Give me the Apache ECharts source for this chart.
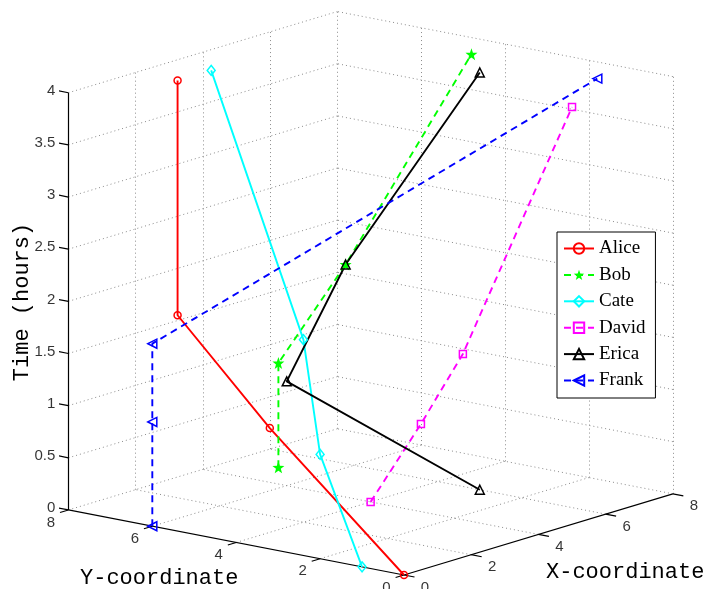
<!DOCTYPE html>
<html>
<head>
<meta charset="utf-8">
<script src="https://cdn.jsdelivr.net/npm/echarts@6/dist/echarts.min.js"></script>
<style>
  html, body { margin: 0; padding: 0; background: #fff; }
  #chart { width: 704px; height: 589px; }
</style>
</head>
<body>
<div id="chart"></div>
<script>
var people = ['Alice', 'Bob', 'Cate', 'David', 'Erica', 'Frank'];
var timeHours = [0, 1, 1.75, 4];

var aliceX = [0, 1, 2, 2], aliceY = [0, 4, 7, 7];
var bobX = [5, 5, 7, 7], bobY = [7, 7, 7, 4];
var cateX = [0, 0, 2, 3], cateY = [1, 2, 4, 7];
var davidX = [4, 3, 3, 5], davidY = [4, 2, 1, 0];
var ericaX = [6, 4, 7, 6], ericaY = [3, 6, 7, 3];
var frankX = [0, 0, 0, 7], frankY = [6, 6, 6, 1];

var xTicks = [0, 2, 4, 6, 8];
var yTicks = [0, 2, 4, 6, 8];
var tTicks = [0, 0.5, 1, 1.5, 2, 2.5, 3, 3.5, 4];
var xTickLabels = ['0', '2', '4', '6', '8'];
var yTickLabels = ['0', '2', '4', '6', '8'];
var tTickLabels = ['0', '0.5', '1', '1.5', '2', '2.5', '3', '3.5', '4'];

// view (azimuth / elevation, degrees) of the 3d box
var AZ = -51.3, EL = 14;
var XR = [0, 8], YR = [0, 8], TR = [0, 4];
var a = AZ * Math.PI / 180, e = EL * Math.PI / 180;

function proj(x, y, z) {
  var xn = (x - XR[0]) / (XR[1] - XR[0]);
  var yn = (y - YR[0]) / (YR[1] - YR[0]);
  var zn = (z - TR[0]) / (TR[1] - TR[0]);
  var u = Math.cos(a) * xn + Math.sin(a) * yn;
  var v = -Math.sin(e) * Math.sin(a) * xn + Math.sin(e) * Math.cos(a) * yn + Math.cos(e) * zn;
  return [u, v];
}

// screen placement of the projected box
var S = 430, OX = 404, OY = 575;
var U = [-0.8, 0.65], V = [-0.03, 1.33];

var chart = echarts.init(document.getElementById('chart'));

function seg(p, q) { return { coords: [proj(p[0], p[1], p[2]), proj(q[0], q[1], q[2])] }; }

// dotted grid on floor and the two back walls
var gridSegs = [];
xTicks.forEach(function (x) {
  if (x > XR[0]) gridSegs.push(seg([x, YR[0], 0], [x, YR[1], 0]));
  if (x > XR[0]) gridSegs.push(seg([x, YR[1], TR[0]], [x, YR[1], TR[1]]));
});
yTicks.forEach(function (y) {
  if (y > YR[0]) gridSegs.push(seg([XR[0], y, 0], [XR[1], y, 0]));
  if (y < YR[1]) gridSegs.push(seg([XR[1], y, TR[0]], [XR[1], y, TR[1]]));
});
tTicks.forEach(function (t) {
  if (t > TR[0]) {
    gridSegs.push(seg([XR[0], YR[1], t], [XR[1], YR[1], t]));
    gridSegs.push(seg([XR[1], YR[0], t], [XR[1], YR[1], t]));
  }
});

// solid axes and ticks
var axisSegs = [
  seg([XR[0], YR[0], 0], [XR[1], YR[0], 0]),
  seg([XR[0], YR[0], 0], [XR[0], YR[1], 0]),
  seg([XR[0], YR[1], TR[0]], [XR[0], YR[1], TR[1]])
];
xTicks.forEach(function (x) { axisSegs.push(seg([x, 0, 0], [x, -0.25, 0])); });
yTicks.forEach(function (y) { axisSegs.push(seg([0, y, 0], [-0.25, y, 0])); });
tTicks.forEach(function (t) { axisSegs.push(seg([0, 8, t], [0, 8.24, t])); });

var xLab = xTicks.map(function (x, i) { var p = proj(x, -0.5, -0.08); return [p[0], p[1], xTickLabels[i]]; });
var yLab = yTicks.map(function (y, i) { var p = proj(-0.52, y, -0.07); return [p[0], p[1], yTickLabels[i]]; });
var tLab = tTicks.map(function (t, i) { var p = proj(0, 8.24, t); return [p[0], p[1], tTickLabels[i]]; });

function pts(xs, ys) {
  return xs.map(function (x, i) { return proj(x, ys[i], timeHours[i]); });
}

var starPath = 'path://M0,-10L2.35,-3.24L9.51,-3.09L3.8,1.24L5.88,8.09L0,4L-5.88,8.09L-3.8,1.24L-9.51,-3.09L-2.35,-3.24Z';

function person(name, xs, ys, color, dash, symbol, size, filled, rot) {
  return {
    name: name,
    type: 'line',
    data: pts(xs, ys),
    symbol: symbol,
    symbolSize: size,
    symbolRotate: rot || 0,
    showAllSymbol: true,
    z: 5,
    clip: false,
    lineStyle: { color: color, width: 1.9, type: dash ? [7, 5] : 'solid' },
    itemStyle: filled ? { color: color } : { color: 'rgba(255,255,255,0)', borderColor: color, borderWidth: 1.5 }
  };
}

function labels(data, pos, dist) {
  return {
    type: 'scatter', data: data, symbolSize: 0, silent: true, z: 4, clip: false,
    label: {
      show: true, position: pos, distance: dist || 0,
      formatter: function (p) { return p.value[2]; },
      fontFamily: 'Liberation Sans', fontSize: 15, color: '#000'
    }
  };
}

var option = {
  animation: false,
  backgroundColor: '#fff',
  grid: {
    left: OX + U[0] * S, width: (U[1] - U[0]) * S,
    top: OY - V[1] * S, height: (V[1] - V[0]) * S
  },
  xAxis: { type: 'value', min: U[0], max: U[1], show: false },
  yAxis: { type: 'value', min: V[0], max: V[1], show: false },
  legend: {
    data: people,
    orient: 'vertical',
    left: 557, top: 232,
    backgroundColor: '#fff',
    borderColor: '#000', borderWidth: 1, borderRadius: 0,
    padding: [7, 10, 8, 6],
    itemWidth: 30, itemHeight: 13, itemGap: 7.4,
    textStyle: { fontFamily: 'Liberation Serif', fontSize: 19, color: '#000' }
  },
  graphic: [
    { type: 'text', left: 80, top: 567, style: { text: 'Y-coordinate', font: '22px "Liberation Mono"', fill: '#000' } },
    { type: 'text', left: 546, top: 561, style: { text: 'X-coordinate', font: '22px "Liberation Mono"', fill: '#000' } },
    { type: 'text', x: 22, y: 302, rotation: Math.PI / 2,
      style: { text: 'Time (hours)', font: '22px "Liberation Mono"', fill: '#000', align: 'center', verticalAlign: 'middle' } }
  ],
  series: [
    { type: 'lines', coordinateSystem: 'cartesian2d', silent: true, z: 1, data: gridSegs,
      lineStyle: { color: '#8c8c8c', width: 1, type: [1, 3], opacity: 1 } },
    { type: 'lines', coordinateSystem: 'cartesian2d', silent: true, z: 2, data: axisSegs,
      lineStyle: { color: '#000', width: 1.2, type: 'solid', opacity: 1 } },
    labels(xLab, 'inside'),
    labels(yLab, 'inside'),
    labels(tLab, 'left', 3),
    person('Alice', aliceX, aliceY, '#ff0000', false, 'circle', 7, false),
    person('Bob', bobX, bobY, '#00ff00', true, starPath, 12, true),
    person('Cate', cateX, cateY, '#00ffff', false, 'diamond', [8, 10], false),
    person('David', davidX, davidY, '#ff00ff', true, 'rect', 7, false),
    person('Erica', ericaX, ericaY, '#000000', false, 'triangle', 9, false),
    person('Frank', frankX, frankY, '#0000ff', true, 'triangle', 9, false, 90)
  ]
};

chart.setOption(option);
</script>
</body>
</html>
